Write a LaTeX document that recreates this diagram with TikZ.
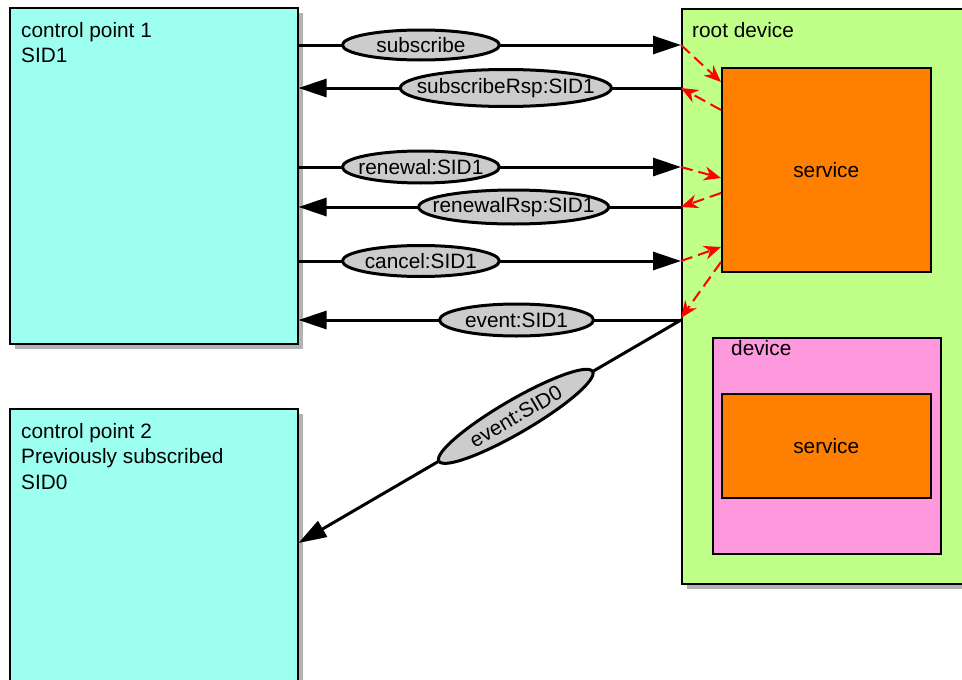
\documentclass[tikz,border=0pt]{standalone}
\usepackage{fontspec}
\setmainfont{Liberation Sans}
\usetikzlibrary{arrows.meta,shapes.geometric,shadows}
\definecolor{cpcyan}{HTML}{9CFFF0}
\definecolor{rootgreen}{HTML}{C0FF88}
\definecolor{svcorange}{HTML}{FF8000}
\definecolor{devpink}{HTML}{FF99DD}
\definecolor{lblgray}{HTML}{CCCCCC}
\definecolor{shadowgray}{HTML}{B3B3B3}
\begin{document}
\begin{tikzpicture}[x=1pt,y=-1pt,
  font=\fontsize{20.8}{25.5}\selectfont,
  box/.style={draw=black, line width=1.5pt, anchor=north west, inner sep=0pt},
  shadowed/.style={drop shadow={shadow xshift=5pt, shadow yshift=-5pt, fill=shadowgray, opacity=1}},
  txt/.style={anchor=north west, inner sep=0pt, align=left},
  msg/.style={line width=3pt, -{Triangle[length=28pt,width=18pt]}},
  lbl/.style={ellipse, draw=black, line width=3pt, fill=lblgray, inner sep=0pt},
  ctrl/.style={red, line width=2pt, dash pattern=on 12pt off 6pt, -{Stealth[length=17pt,width=14pt]}}]
\clip (0,0) rectangle (962,680);
% boxes
\node[box, shadowed, fill=cpcyan, minimum width=288pt, minimum height=336pt] (cp1) at (9,7) {};
\node[box, shadowed, fill=cpcyan, minimum width=288pt, minimum height=300pt] (cp2) at (9,408) {};
\node[box, shadowed, fill=rootgreen, minimum width=400pt, minimum height=575pt] (root) at (681,8) {};
\node[box, fill=svcorange, minimum width=209pt, minimum height=204pt] (svc1) at (721,67) {};
\node[box, fill=devpink, minimum width=228pt, minimum height=216pt] (dev) at (712,337) {};
\node[box, fill=svcorange, minimum width=209pt, minimum height=104pt] (svc2) at (721,393) {};
% texts
\node[txt] (cp1t) at (21,22) {control point 1\\SID1};
\node[txt] (cp2t) at (21,423) {control point 2\\Previously subscribed\\SID0};
\node[txt] (roott) at (692,22) {root device};
\node[txt] (devt) at (731,340) {device};
\node (svc1t) at (svc1.center) {service};
\node (svc2t) at (svc2.center) {service};
% levels
\coordinate (ysub) at (0,45);
\coordinate (ysubr) at (0,88);
\coordinate (yren) at (0,167);
\coordinate (yrenr) at (0,207);
\coordinate (ycan) at (0,261);
\coordinate (yev) at (0,320);
\coordinate (yev0) at (0,543);
% messages
\draw[msg] (cp1.east |- ysub) -- node[lbl, pos=0.32, minimum width=157pt, minimum height=30pt]{\makebox[0pt]{subscribe}} (root.west |- ysub);
\draw[msg] (root.west |- ysubr) -- node[lbl, pos=0.458, minimum width=211pt, minimum height=37pt]{\makebox[0pt]{subscribeRsp:SID1}} (cp1.east |- ysubr);
\draw[msg] (cp1.east |- yren) -- node[lbl, pos=0.32, minimum width=157pt, minimum height=32pt]{\makebox[0pt]{renewal:SID1}} (root.west |- yren);
\draw[msg] (root.west |- yrenr) -- node[lbl, pos=0.4375, minimum width=190pt, minimum height=34pt]{\makebox[0pt]{renewalRsp:SID1}} (cp1.east |- yrenr);
\draw[msg] (cp1.east |- ycan) -- node[lbl, pos=0.32, minimum width=157pt, minimum height=31pt]{\makebox[0pt]{cancel:SID1}} (root.west |- ycan);
\draw[msg] (root.west |- yev) -- node[lbl, pos=0.43, minimum width=154pt, minimum height=32pt]{\makebox[0pt]{event:SID1}} (cp1.east |- yev);
\draw[msg] (root.west |- yev) -- node[lbl, sloped, pos=0.432, minimum width=178pt, minimum height=33pt]{\makebox[0pt]{event:SID0}} (cp2.east |- yev0);
% internal red dashed arrows
\coordinate (s1) at (0,82);
\coordinate (s2) at (0,110);
\coordinate (s3) at (0,178);
\coordinate (s4) at (0,193);
\coordinate (s5) at (0,247);
\coordinate (s6) at (0,262);
\coordinate (e6) at (0,318);
\draw[ctrl] (root.west |- ysub) -- (svc1.west |- s1);
\draw[ctrl] (svc1.west |- s2) -- (root.west |- ysubr);
\draw[ctrl] (root.west |- yren) -- (svc1.west |- s3);
\draw[ctrl] (svc1.west |- s4) -- (root.west |- yrenr);
\draw[ctrl] (root.west |- ycan) -- (svc1.west |- s5);
\draw[ctrl] (svc1.west |- s6) -- (root.west |- e6);
\end{tikzpicture}
\end{document}
